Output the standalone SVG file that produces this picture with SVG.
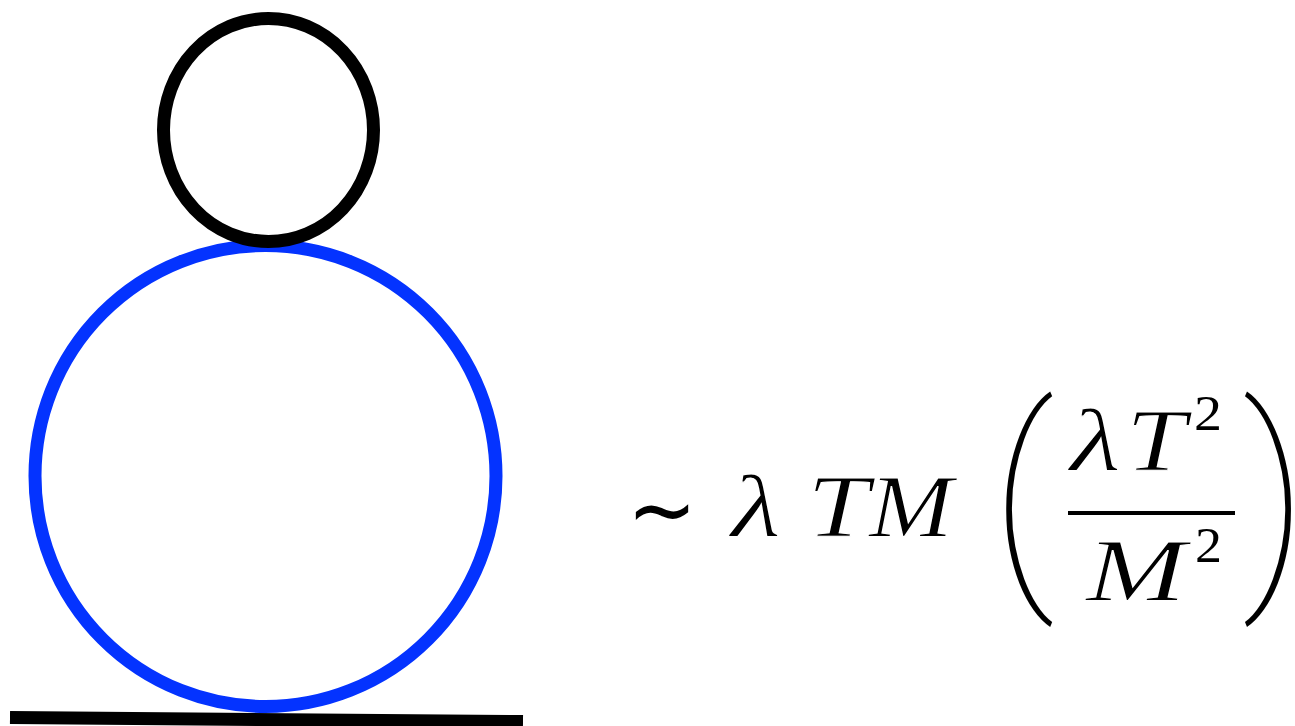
<svg xmlns="http://www.w3.org/2000/svg" width="1295" height="726" viewBox="0 0 1295 726">
<style>
.m{font-family:"Liberation Serif","Times New Roman",serif;font-style:italic;font-size:88px;fill:#000;stroke:#fff;stroke-width:1.2px}
.d{font-family:"Liberation Serif","Times New Roman",serif;font-size:50px;fill:#000}
.p{font-family:Roboto,"Liberation Sans",sans-serif;font-weight:100;font-size:150px;fill:#000}
</style>
<rect width="1295" height="726" fill="#fff"/>
<g id="blue-loop"><circle cx="265.5" cy="476" r="230.5" fill="none" stroke="#0433ff" stroke-width="13"/></g>
<g id="black-loop"><ellipse cx="268.5" cy="130" rx="105" ry="111.5" fill="none" stroke="#000" stroke-width="13"/></g>
<g id="connectors"><line x1="10" y1="717.5" x2="523" y2="721.5" stroke="#000" stroke-width="13"/></g>
<g id="formula">
<text x="627" y="541" style="font-family:'DejaVu Sans',sans-serif;font-size:92px" textLength="70" lengthAdjust="spacingAndGlyphs">∼</text>
<text class="m" x="731" y="536" textLength="50" lengthAdjust="spacingAndGlyphs">λ</text>
<text class="m" x="807" y="536" textLength="62" lengthAdjust="spacingAndGlyphs">T</text>
<text class="m" x="869" y="536" textLength="84" lengthAdjust="spacingAndGlyphs">M</text>
<g transform="translate(990.5,573.5) scale(1.45,1.53)"><text class="p" x="0" y="0">(</text></g>
<text class="m" x="1070" y="470" textLength="51" lengthAdjust="spacingAndGlyphs">λ</text>
<text class="m" x="1126" y="470" textLength="60" lengthAdjust="spacingAndGlyphs">T</text>
<text class="d" x="1194" y="430" textLength="28" lengthAdjust="spacingAndGlyphs">2</text>
<rect x="1068" y="511" width="167" height="4" fill="#000"/>
<text class="m" x="1086" y="600" textLength="100" lengthAdjust="spacingAndGlyphs">M</text>
<text class="d" x="1195" y="562" textLength="27" lengthAdjust="spacingAndGlyphs">2</text>
<g transform="translate(1242,573.5) scale(1.45,1.53)"><text class="p" x="0" y="0" letter-spacing="-20">)</text></g>
</g>
</svg>
